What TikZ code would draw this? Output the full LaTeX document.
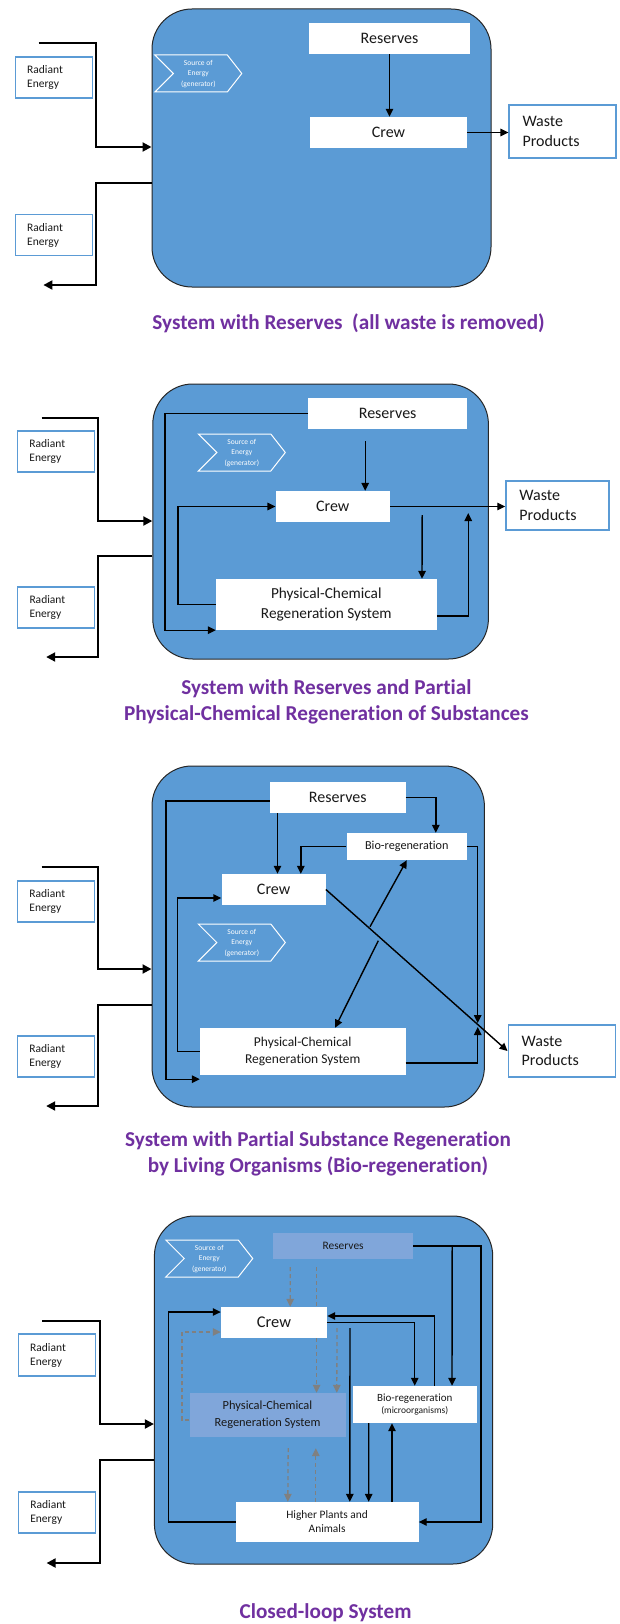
\documentclass[tikz,border=0pt]{standalone}
\usepackage{fontspec}
\setmainfont{Carlito}[Ligatures=NoCommon]
\usetikzlibrary{arrows.meta}

\definecolor{sysblue}{RGB}{91,155,213}
\definecolor{shblue}{RGB}{128,166,218}
\definecolor{radblue}{RGB}{91,155,213}
\definecolor{ttlpurple}{RGB}{112,48,160}
\definecolor{txtc}{RGB}{25,25,25}
\definecolor{dashgray}{RGB}{128,128,128}
\newcommand{\fs}[2]{\fontsize{#1}{#2}\selectfont}

\tikzset{
  sysbox/.style={draw=black!85, fill=sysblue, line width=1pt, rounded corners=40pt, inner sep=0pt},
  wbox/.style={fill=white, text=txtc, inner sep=0pt, align=center},
  shbox/.style={fill=shblue, text=txtc, inner sep=0pt, align=center},
  radbox/.style={draw=radblue, fill=white, text=txtc, line width=1.3pt, inner xsep=12pt, inner ysep=0pt,
    text width=53pt, minimum height=41pt, align=left, font=\fs{11.5}{14}},
  wastebox/.style={draw=radblue, fill=white, text=txtc, line width=1.3pt, inner xsep=13.5pt, inner ysep=0pt,
    text width=80pt, minimum height=52pt, align=left, font=\fs{16}{19.5}},
  conn/.style={line width=1.4pt, -{Triangle[length=8pt,width=7.5pt]}},
  radline/.style={line width=2pt, -{Triangle[length=9pt,width=9pt]}},
  gconn/.style={draw=dashgray, line width=1.3pt, dash pattern=on 4pt off 3pt,
    -{Triangle[length=8pt,width=7.5pt]}},
  ttl/.style={text=ttlpurple, font=\bfseries\fs{21.2}{26}, align=center},
  srctxt/.style={text=white, font=\fs{7.5}{9.5}, align=center, inner sep=0pt},
  srcgen/.pic={
    \draw[white, line width=1pt] (-43.5,-18.5) -- (29,-18.5) -- (43.5,0) -- (29,18.5)
      -- (-43.5,18.5) -- (-25,0) -- cycle;
    \node[srctxt] (-t) at (0,0.5) {Source of\\Energy\\[1.5pt](generator)};
  }
}

\begin{document}
\begin{tikzpicture}[x=1pt,y=-1pt,line cap=butt,line join=miter]
  \path[use as bounding box, fill=white] (0,0) rectangle (619,1624);

  % system with reserves
  \node[sysbox, minimum width=339pt, minimum height=278pt] (sys1) at (321.5,148) {};
  \pic (src1) at (198.3,73.5) {srcgen};
  \node[wbox, minimum width=161pt, minimum height=31pt, font=\fs{16}{19}] (res1) at (389.5,38.5) {Reserves};
  \node[wbox, minimum width=157pt, minimum height=31pt, font=\fs{16}{19}] (crew1) at (388.5,132.5) {Crew};
  \node[wastebox, minimum height=53pt] (waste1) at (562.5,131.5) {Waste\\Products};
  \node[radbox] (rad1a) at (53.7,77.5) {Radiant\\Energy};
  \node[radbox] (rad1b) at (53.7,235) {Radiant\\Energy};
  \coordinate (in1) at (38.7,43);
  \coordinate (out1) at (43.4,285);
  \draw[radline] (in1) -- (96,43) |- (sys1.west |- 0,147);
  \draw[radline] (sys1.west |- 0,183) -| (96,285) -- (out1);
  \draw[conn] (res1.south) -- (res1.south |- crew1.north);
  \draw[conn] (crew1.east) -- (crew1.east -| waste1.west);
  \node[ttl] (ttl1) at (348.6,323) {System with Reserves\ \ (all waste is removed)};

  % partial physical-chemical regeneration
  \node[sysbox, minimum width=335.6pt, minimum height=275pt] (sys2) at (320.6,521.5) {};
  \pic (src2) at (241.8,452.5) {srcgen};
  \node[wbox, minimum width=158.7pt, minimum height=31pt, font=\fs{16}{19}] (res2) at (387.65,413.5) {Reserves};
  \node[wbox, minimum width=114.4pt, minimum height=31pt, font=\fs{16}{19}] (crew2) at (332.8,506.5) {Crew};
  \node[wbox, minimum width=220.6pt, minimum height=51pt, font=\fs{15.3}{20}] (pcrs2) at (326.3,604.5)
    {Physical-Chemical\\Regeneration System};
  \node[wastebox, text width=76pt, minimum height=49pt] (waste2) at (557.4,505.5) {Waste\\Products};
  \node[radbox] (rad2a) at (55.9,451.5) {Radiant\\Energy};
  \node[radbox] (rad2b) at (56,607.5) {Radiant\\Energy};
  \coordinate (in2) at (41.5,418);
  \coordinate (out2) at (46.2,657);
  \draw[radline] (in2) -- (98.3,418) |- (sys2.west |- 0,521);
  \draw[radline] (sys2.west |- 0,556) -| (98.3,657) -- (out2);
  \draw[conn] ([xshift=-22.45pt,yshift=-12pt]res2.south) -- ([xshift=32.4pt]crew2.north);
  \draw[conn] (res2.west) -- (165,413.5) |- (pcrs2.south west);
  \draw[conn] (pcrs2.west) -- (178,604.5) |- (crew2.west);
  \draw[conn] (crew2.east) -- (crew2.east -| waste2.west);
  \draw[conn] ([xshift=32pt,yshift=-8.5pt]crew2.east) -- ([xshift=95.7pt]pcrs2.north);
  \draw[conn] ([yshift=-11.5pt]pcrs2.east) -| (468.2,513);
  \node[ttl] (ttl2) at (326.4,702) {System with Reserves and Partial\\Physical-Chemical Regeneration of Substances};

  % bio-regeneration
  \node[sysbox, minimum width=332.4pt, minimum height=341pt] (sys3) at (318.2,936.5) {};
  \pic (src3) at (241.8,942.5) {srcgen};
  \node[wbox, minimum width=135.5pt, minimum height=31pt, font=\fs{16}{19}] (res3) at (337.75,797.5) {Reserves};
  \node[wbox, minimum width=120.4pt, minimum height=27pt, font=\fs{12.2}{15}] (bio3) at (406.8,846.5) {Bio-regeneration};
  \node[wbox, minimum width=104.2pt, minimum height=31pt, font=\fs{16}{19}] (crew3) at (273.6,889.5) {Crew};
  \node[wbox, minimum width=205.5pt, minimum height=47pt, font=\fs{13.5}{17.3}] (pcrs3) at (302.75,1051.5)
    {Physical-Chemical\\Regeneration System};
  \node[wastebox] (waste3) at (561.7,1051) {Waste\\Products};
  \node[radbox] (rad3a) at (55.9,901.5) {Radiant\\Energy};
  \node[radbox] (rad3b) at (55.9,1056.5) {Radiant\\Energy};
  \coordinate (in3) at (41.5,867);
  \coordinate (out3) at (46.2,1106);
  \coordinate (x3a) at (370,926.7);
  \coordinate (x3b) at (378.3,940.7);
  \draw[radline] (in3) -- (98,867) |- (sys3.west |- 0,969);
  \draw[radline] (sys3.west |- 0,1005) -| (98,1106) -- (out3);
  \draw[conn] ([yshift=-3.5pt]res3.west) -- (165.8,801) |- ([yshift=-4pt]pcrs3.south west);
  \draw[conn] ([xshift=-60.25pt]res3.south) -- ([xshift=3.9pt]crew3.north);
  \draw[conn] (res3.east) -| ([xshift=29pt]bio3.north);
  \draw[conn] (bio3.west) -| ([xshift=27.2pt]crew3.north);
  \draw[conn] (pcrs3.west) -- (177.3,1051.5) |- ([yshift=-8.5pt]crew3.west);
  \draw[conn] (crew3.east) -- (waste3.west);
  \draw[conn] (x3a) -- (bio3.south);
  \draw[conn] (x3b) -- ([xshift=32.3pt]pcrs3.north);
  \draw[conn] (bio3.east) -| (477.7,1023);
  \draw[conn] ([yshift=-11.5pt]pcrs3.east) -| (477.7,1027);
  \node[ttl] (ttl3) at (318,1154) {System with Partial Substance Regeneration\\by Living Organisms (Bio-regeneration)};

  % closed loop
  \node[sysbox, minimum width=338.3pt, minimum height=348pt] (sys4) at (323.55,1390) {};
  \pic (src4) at (209.25,1258.5) {srcgen};
  \node[shbox, minimum width=139.8pt, minimum height=26pt, font=\fs{11.4}{14}] (res4) at (343.1,1246) {Reserves};
  \node[wbox, minimum width=106pt, minimum height=31pt, font=\fs{16.4}{19}] (crew4) at (274,1322.5) {Crew};
  \node[shbox, minimum width=156pt, minimum height=44pt, font=\fs{12.4}{17}] (pcrs4) at (267.5,1415)
    {Physical-Chemical\\Regeneration System};
  \node[wbox, minimum width=124.5pt, minimum height=37pt, font=\fs{11}{12.3}] (bio4) at (414.75,1404.5)
    {Bio-regeneration\\\fs{9.5}{12.3}(microorganisms)};
  \node[wbox, minimum width=182.8pt, minimum height=40pt, font=\fs{11.4}{14}] (hp4) at (327.1,1522)
    {Higher Plants and\\Animals};
  \node[radbox, minimum height=42pt] (rad4a) at (56.7,1355) {Radiant\\Energy};
  \node[radbox] (rad4b) at (56.85,1512.5) {Radiant\\Energy};
  \coordinate (in4) at (42.2,1321);
  \coordinate (out4) at (46.6,1563);
  \draw[radline] (in4) -- (99.5,1321) |- (sys4.west |- 0,1424);
  \draw[radline] (sys4.west |- 0,1460) -| (99.5,1563) -- (out4);
  \draw[conn] (hp4.west) -- (168.2,1522) |- ([yshift=10.5pt]crew4.west);
  \draw[conn] (res4.east) -- (480.9,1246) |- (hp4.east);
  \draw[conn] ([xshift=39pt]res4.east) -- ([xshift=37.25pt]bio4.north);
  \draw[conn] ([xshift=19.55pt]bio4.north) |- ([yshift=6.5pt]crew4.east);
  \draw[conn] (crew4.east) -| (bio4.north);
  \draw[conn] ([xshift=22.8pt,yshift=-5.5pt]crew4.east) -- ([xshift=22.7pt]hp4.north);
  \draw[conn] ([xshift=-46pt]bio4.south) -- ([xshift=41.6pt]hp4.north);
  \draw[conn] ([xshift=64.9pt]hp4.north) -- ([xshift=-22.75pt]bio4.south);
  \draw[gconn] ([xshift=-52.9pt,yshift=-8pt]res4.south) -- ([xshift=16.2pt]crew4.north);
  \draw[gconn,-] ([xshift=-26.5pt,yshift=-8pt]res4.south) -- ([xshift=42.6pt]crew4.north);
  \draw[gconn] ([xshift=42.6pt]crew4.south) -- ([xshift=49.1pt]pcrs4.north);
  \draw[gconn] ([xshift=9.8pt,yshift=-5.5pt]crew4.east) -- ([xshift=69.3pt]pcrs4.north);
  \draw[gconn] ([yshift=-5pt]pcrs4.west) -- (182,1420) |- ([yshift=-9.5pt]crew4.west);
  \draw[gconn] ([xshift=20.7pt,yshift=-11pt]pcrs4.south) -- ([xshift=-39.3pt]hp4.north);
  \draw[gconn] ([xshift=-11.3pt]hp4.north) -- ([xshift=48.3pt,yshift=-11pt]pcrs4.south);
  \node[ttl] (ttl4) at (325.5,1613) {Closed-loop System};
\end{tikzpicture}
\end{document}
